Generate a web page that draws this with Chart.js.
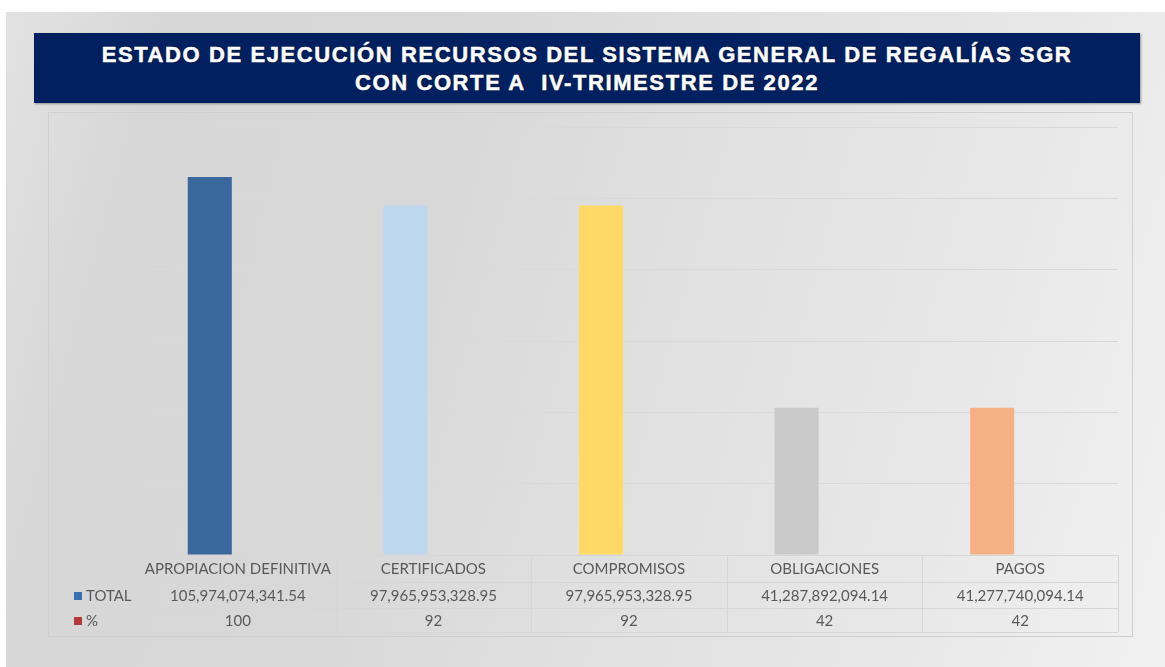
<!DOCTYPE html>
<html>
<head>
<meta charset="utf-8">
<script src="https://cdn.jsdelivr.net/npm/chart.js@4.4.1/dist/chart.umd.min.js"></script>
<style>
  html, body { margin: 0; padding: 0; background: #ffffff; }
  body { width: 1165px; height: 667px; position: relative; overflow: hidden; }
  #panel {
    position: absolute; left: 6px; top: 12px; width: 1159px; height: 655px;
    background: linear-gradient(105deg, #e2e2e2 0%, #d7d7d7 12%, #d8d8d8 35%, #e0e0e0 55%, #e8e8e8 80%, #f1f1f1 100%);
  }
  #titlebox {
    position: absolute; left: 34px; top: 33px; width: 1106px; height: 70px;
    background: #002060; box-shadow: 1px 1px 2px rgba(0,0,0,0.35);
    color: #ffffff; text-align: center;
    font-family: "Liberation Sans", Arial, sans-serif; font-weight: bold;
    font-size: 22px; line-height: 28px; letter-spacing: 1.6px;
    padding-top: 8px; box-sizing: border-box;
    -webkit-text-stroke: 0.5px #ffffff;
    text-shadow: 0 0 2px rgba(0,0,0,0.7);
  }
  #frame {
    position: absolute; left: 48px; top: 112px; width: 1085px; height: 525px;
    border: 1px solid #cfcfcf; box-sizing: border-box;
  }
  #c { position: absolute; left: 0; top: 0; }
</style>
</head>
<body>
<div id="panel"></div>
<div id="titlebox">ESTADO DE EJECUCIÓN RECURSOS DEL SISTEMA GENERAL DE REGALÍAS SGR<br>CON CORTE A&nbsp; IV-TRIMESTRE DE 2022</div>
<div id="frame"></div>
<canvas id="c" width="1165" height="667"></canvas>
<script>
const categories = ["APROPIACION DEFINITIVA", "CERTIFICADOS", "COMPROMISOS", "OBLIGACIONES", "PAGOS"];
const seriesNames = ["TOTAL", "%"];
const totalValues = [105974074341.54, 97965953328.95, 97965953328.95, 41287892094.14, 41277740094.14];
const pctValues = [100, 92, 92, 42, 42];
const barColors = ["#3a679c", "#bdd7ee", "#ffd966", "#c9c9c9", "#f4b183"];
const seriesKeyColors = ["#3a6fb0", "#b33a3a"];
const yMax = 120000000000;
const yStep = 20000000000;

function fmtTotal(v) {
  return v.toLocaleString('en-US', { minimumFractionDigits: 2, maximumFractionDigits: 2 });
}

const dataTablePlugin = {
  id: 'dataTable',
  afterDraw(chart) {
    const ctx = chart.ctx;
    const x = chart.scales.x;
    const area = chart.chartArea;
    const left = area.left, right = area.right;
    const top = area.bottom;
    const rows = [top, top + 27, top + 53, top + 77];
    const n = categories.length;
    const step = (right - left) / n;
    ctx.save();
    ctx.strokeStyle = '#d6d6d6';
    ctx.lineWidth = 1;
    ctx.beginPath();
    for (const ry of rows) {
      ctx.moveTo(left, Math.round(ry) + 0.5);
      ctx.lineTo(right, Math.round(ry) + 0.5);
    }
    for (let i = 0; i <= n; i++) {
      const vx = Math.round(left + i * step) + 0.5;
      ctx.moveTo(vx, rows[0]);
      ctx.lineTo(vx, rows[3]);
    }
    ctx.stroke();

    ctx.fillStyle = '#595959';
    ctx.font = '15px Lato, "Open Sans", sans-serif';
    ctx.textAlign = 'center';
    ctx.textBaseline = 'middle';
    const rowMid = [(rows[0] + rows[1]) / 2 + 1, (rows[1] + rows[2]) / 2 + 1, (rows[2] + rows[3]) / 2 + 1];
    for (let i = 0; i < n; i++) {
      const cx = x.getPixelForValue(i);
      ctx.fillText(categories[i], cx, rowMid[0]);
      ctx.fillText(fmtTotal(totalValues[i]), cx, rowMid[1]);
      ctx.fillText(String(pctValues[i]), cx, rowMid[2]);
    }
    ctx.textAlign = 'left';
    for (let s = 0; s < seriesNames.length; s++) {
      const my = rowMid[s + 1];
      ctx.fillStyle = seriesKeyColors[s];
      ctx.fillRect(74, Math.round(my - 4), 8, 8);
      ctx.fillStyle = '#595959';
      ctx.fillText(seriesNames[s], 86, my);
    }
    ctx.restore();
  }
};

new Chart(document.getElementById('c'), {
  type: 'bar',
  data: {
    labels: categories,
    datasets: [
      { label: seriesNames[0], data: totalValues, backgroundColor: barColors, borderWidth: 0,
        categoryPercentage: 0.573, barPercentage: 0.786 },
      { label: seriesNames[1], data: pctValues, backgroundColor: 'rgba(179,58,58,0)', borderWidth: 0,
        categoryPercentage: 0.573, barPercentage: 0.786 }
    ]
  },
  options: {
    responsive: false,
    animation: false,
    layout: { padding: { left: 140, right: 47, top: 127, bottom: 112 } },
    plugins: { legend: { display: false }, tooltip: { enabled: false }, title: { display: false } },
    scales: {
      x: { display: false },
      y: {
        min: 0, max: yMax,
        ticks: { display: false, stepSize: yStep },
        grid: { color: '#d9d9d9', drawTicks: false },
        border: { display: false }
      }
    }
  },
  plugins: [dataTablePlugin]
});
</script>
</body>
</html>
